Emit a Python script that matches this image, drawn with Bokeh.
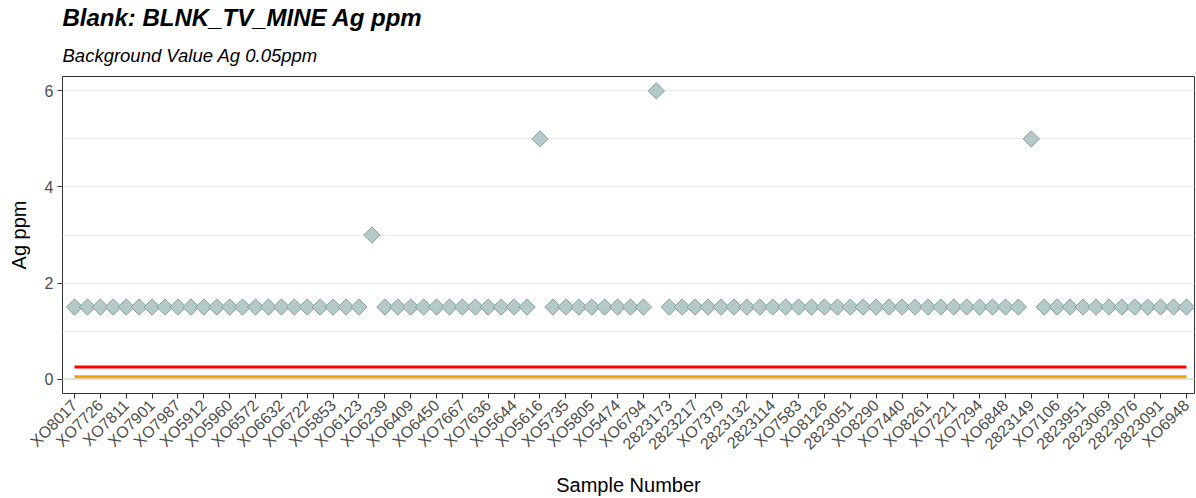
import math

from bokeh.plotting import figure
from bokeh.models import FixedTicker, Span, Title, Range1d
from bokeh.embed import file_html
from bokeh.resources import INLINE

# Sample labels shown on the x axis (every other sample carries a label)
tick_labels = [
    "XO8017", "XO7726", "XO7811", "XO7901", "XO7987", "XO5912", "XO5960",
    "XO6572", "XO6632", "XO6722", "XO5853", "XO6123", "XO6239", "XO6409",
    "XO6450", "XO7667", "XO7636", "XO5644", "XO5616", "XO5735", "XO5805",
    "XO5474", "XO6794", "2823173", "2823217", "XO7379", "2823132", "2823114",
    "XO7583", "XO8126", "2823051", "XO8290", "XO7440", "XO8261", "XO7221",
    "XO7294", "XO6848", "2823149", "XO7106", "2823951", "2823069", "2823076",
    "2823091", "XO6948",
]

# Ag ppm of each blank, in sample order
ag_ppm = [
    1.5, 1.5, 1.5, 1.5, 1.5, 1.5, 1.5, 1.5, 1.5, 1.5,
    1.5, 1.5, 1.5, 1.5, 1.5, 1.5, 1.5, 1.5, 1.5, 1.5,
    1.5, 1.5, 1.5, 3.0, 1.5, 1.5, 1.5, 1.5, 1.5, 1.5,
    1.5, 1.5, 1.5, 1.5, 1.5, 1.5, 5.0, 1.5, 1.5, 1.5,
    1.5, 1.5, 1.5, 1.5, 1.5, 6.0, 1.5, 1.5, 1.5, 1.5,
    1.5, 1.5, 1.5, 1.5, 1.5, 1.5, 1.5, 1.5, 1.5, 1.5,
    1.5, 1.5, 1.5, 1.5, 1.5, 1.5, 1.5, 1.5, 1.5, 1.5,
    1.5, 1.5, 1.5, 1.5, 5.0, 1.5, 1.5, 1.5, 1.5, 1.5,
    1.5, 1.5, 1.5, 1.5, 1.5, 1.5, 1.5,
]

background_value = 0.05
upper_limit = 0.25
y_ticks = [0, 2, 4, 6]
y_minor = [1, 3, 5]

sample_index = list(range(len(ag_ppm)))
label_positions = sample_index[::2]

FONT = "Liberation Sans"

p = figure(
    width=1196, height=498,
    output_backend="svg", toolbar_location=None, title=None,
    x_range=Range1d(-0.93, 86.62), y_range=Range1d(-0.3, 6.3),
    min_border_left=62, min_border_right=2,
    min_border_top=76, min_border_bottom=104,
    background_fill_color="white", border_fill_color="white",
)

p.add_layout(Title(text="Background Value Ag 0.05ppm", text_font=FONT,
                   text_font_size="18.5px", text_font_style="italic",
                   text_color="black", align="left", standoff=21), "above")
p.add_layout(Title(text="Blank: BLNK_TV_MINE Ag ppm", text_font=FONT,
                   text_font_size="24px", text_font_style="bold italic",
                   text_color="black", align="left", standoff=3), "above")

p.outline_line_color = "#333333"
p.outline_line_width = 1

# grid: horizontal only
p.xgrid.visible = False
p.ygrid.ticker = FixedTicker(ticks=y_ticks, minor_ticks=y_minor)
p.ygrid.grid_line_color = "#ebebeb"
p.ygrid.grid_line_width = 1.5
p.ygrid.minor_grid_line_color = "#ebebeb"
p.ygrid.minor_grid_line_width = 1

# axes
p.xaxis.ticker = FixedTicker(ticks=label_positions)
p.xaxis.major_label_overrides = {pos: lab for pos, lab in zip(label_positions, tick_labels)}
p.xaxis.major_label_orientation = math.pi / 4
p.yaxis.ticker = FixedTicker(ticks=y_ticks)

for ax in (p.xaxis[0], p.yaxis[0]):
    ax.axis_line_color = None
    ax.major_tick_line_color = "#333333"
    ax.major_tick_in = 0
    ax.major_tick_out = 5
    ax.minor_tick_line_color = None
    ax.major_label_text_font = FONT
    ax.major_label_text_color = "#4d4d4d"
    ax.axis_label_text_font = FONT
    ax.axis_label_text_font_style = "normal"
    ax.axis_label_text_color = "black"
    ax.axis_label_text_font_size = "20px"

p.xaxis.major_label_text_font_size = "16px"
p.yaxis.major_label_text_font_size = "16px"
p.xaxis.axis_label = "Sample Number"
p.yaxis.axis_label = "Ag ppm"
p.xaxis.major_label_standoff = 4
p.xaxis.axis_label_standoff = 12
p.yaxis.major_label_standoff = 4
p.yaxis.axis_label_standoff = 12

# zero reference, kept beneath the data
p.add_layout(Span(location=0, dimension="width", line_color="#cfe7cf",
                  line_width=1.5, level="underlay"))

# limit lines across the sample run
p.line(sample_index, [upper_limit] * len(sample_index), line_color="#ff0000", line_width=3)
p.line(sample_index, [background_value] * len(sample_index), line_color="#f29e12", line_width=3)

# blank results
p.scatter(sample_index, ag_ppm, marker="square", angle=math.pi / 4, size=11.5,
          fill_color="#b2cbc9", line_color="#8c9e9d", line_width=1)

open("out.html", "w").write(file_html(p, INLINE))
